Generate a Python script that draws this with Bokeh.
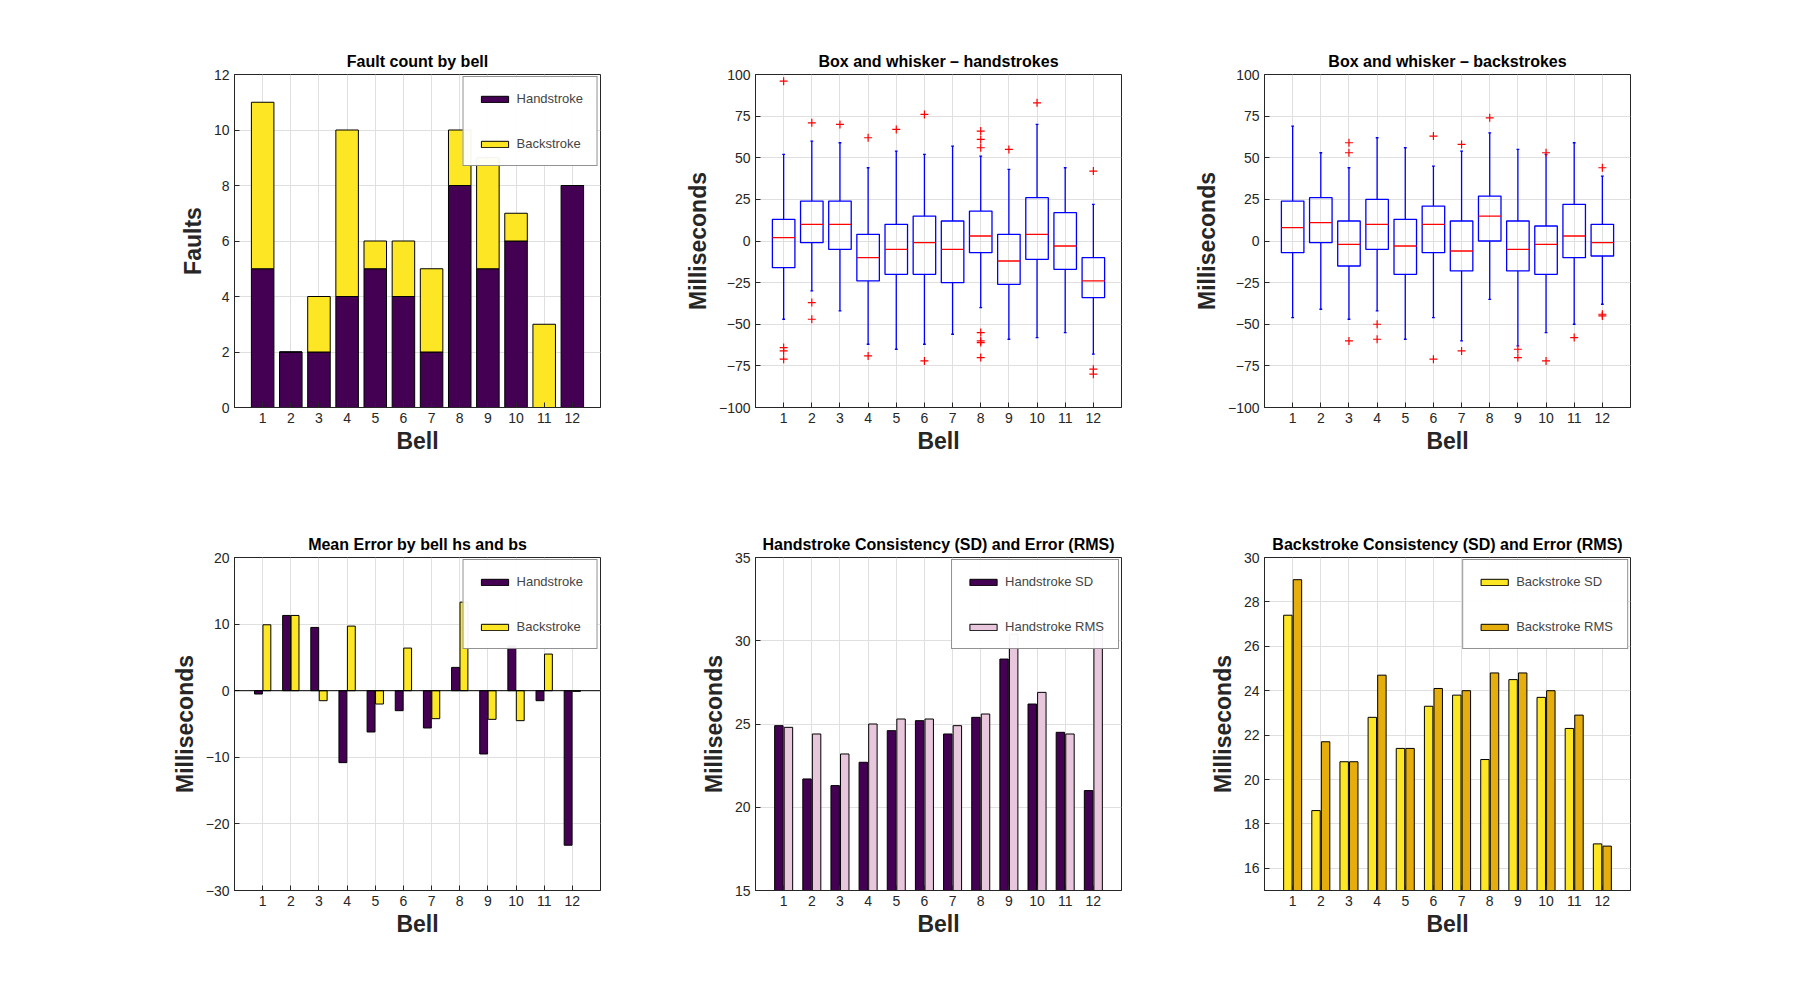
from bokeh.plotting import figure
from bokeh.layouts import gridplot
from bokeh.models import FixedTicker, Range1d, Span, Legend, LegendItem
from bokeh.embed import file_html
from bokeh.resources import INLINE

bells = list(range(1, 13))
fault_hs = [5, 2, 2, 4, 5, 4, 2, 8, 5, 6, 0, 8]
fault_bs = [6, 0, 2, 6, 1, 2, 3, 2, 4, 1, 3, 0]

# box stats: q1, median, q3, lower whisker, upper whisker
hs_q1 = [-16, -1, -5, -24, -20, -20, -25, -7, -26, -11, -17, -34]
hs_med = [2, 10, 10, -10, -5, -1, -5, 3, -12, 4, -3, -24]
hs_q3 = [13, 24, 24, 4, 10, 15, 12, 18, 4, 26, 17, -10]
hs_lo = [-47, -30, -42, -62, -65, -62, -56, -40, -59, -58, -55, -68]
hs_hi = [52, 60, 59, 44, 54, 52, 57, 51, 43, 70, 44, 22]
hs_out = [[96, -64, -66, -71], [71, -37, -47], [70], [62, -69], [67], [76, -72], [],
          [66, 61, 56, -55, -60, -61, -70], [55], [83], [], [42, -77, -80]]

bs_q1 = [-7, -1, -15, -5, -20, -7, -18, 0, -18, -20, -10, -9]
bs_med = [8, 11, -2, 10, -3, 10, -6, 15, -5, -2, 3, -1]
bs_q3 = [24, 26, 12, 25, 13, 21, 12, 27, 12, 9, 22, 10]
bs_lo = [-46, -41, -47, -42, -59, -46, -60, -35, -63, -55, -50, -38]
bs_hi = [69, 53, 44, 62, 56, 45, 54, 65, 55, 52, 59, 39]
bs_out = [[], [], [59, 53, -60], [-50, -59], [], [63, -71], [58, -66], [74],
          [-65, -70], [53, -72], [-58], [44, -44, -45]]

mean_hs = [-0.5, 11.3, 9.5, -10.8, -6.2, -3.0, -5.6, 3.5, -9.5, 6.7, -1.5, -23.2]
mean_bs = [9.9, 11.3, -1.5, 9.7, -2.0, 6.4, -4.2, 13.3, -4.3, -4.5, 5.5, -0.1]

hs_sd = [24.9, 21.7, 21.3, 22.7, 24.6, 25.2, 24.4, 25.4, 28.9, 26.2, 24.5, 21.0]
hs_rms = [24.8, 24.4, 23.2, 25.0, 25.3, 25.3, 24.9, 25.6, 30.4, 26.9, 24.4, 31.1]
bs_sd = [27.4, 18.6, 20.8, 22.8, 21.4, 23.3, 23.8, 20.9, 24.5, 23.7, 22.3, 17.1]
bs_rms = [29.0, 21.7, 20.8, 24.7, 21.4, 24.1, 24.0, 24.8, 24.8, 24.0, 22.9, 17.0]

PURPLE = "#440154"
YELLOW = "#fde725"
PINK = "#e8c6dc"
GOLD = "#e6ae0c"
FONT = "Liberation Sans"

FW, FH = 366, 333
lefts = [234, 145, 133]


def make(col, row, title, ylabel, yr, yticks):
    p = figure(output_backend="svg", toolbar_location=None,
               frame_width=FW, frame_height=FH,
               min_border_left=lefts[col], min_border_right=10,
               min_border_top=74 if row == 0 else 76,
               min_border_bottom=74,
               x_range=Range1d(0, 13), y_range=Range1d(*yr))
    p.title.text = title
    p.title.align = "center"
    p.title.text_font = FONT
    p.title.text_font_size = "16px"
    p.title.text_font_style = "bold"
    p.title.text_color = "#000000"
    p.outline_line_color = "#262626"
    p.background_fill_color = "white"
    p.border_fill_color = "white"
    for ax in (p.xaxis[0], p.yaxis[0]):
        ax.major_label_text_font = FONT
        ax.major_label_text_font_size = "14px"
        ax.major_label_text_color = "#262626"
        ax.axis_label_text_font = FONT
        ax.axis_label_text_font_size = "23px"
        ax.axis_label_text_font_style = "bold"
        ax.axis_label_text_color = "#262626"
        ax.axis_line_color = "#262626"
        ax.major_tick_in = 5
        ax.major_tick_out = 0
        ax.minor_tick_line_color = None
        ax.major_tick_line_color = "#262626"
    p.xaxis[0].ticker = FixedTicker(ticks=bells)
    p.yaxis[0].ticker = FixedTicker(ticks=yticks)
    p.xaxis[0].axis_label = "Bell"
    p.yaxis[0].axis_label = ylabel
    p.xaxis[0].axis_label_standoff = 2
    p.xgrid.ticker = FixedTicker(ticks=bells)
    p.ygrid.ticker = FixedTicker(ticks=yticks)
    p.xgrid.grid_line_color = "#e0e0e0"
    p.ygrid.grid_line_color = "#e0e0e0"
    return p


def legend(p, items):
    lg = Legend(items=items, location="top_right", label_text_font=FONT,
                label_text_font_size="13px", spacing=30, padding=14,
                glyph_width=34, glyph_height=8, border_line_color="#262626",
                margin=2)
    p.add_layout(lg)


# 1 fault count
p1 = make(0, 0, "Fault count by bell", "Faults", (0, 12), list(range(0, 13, 2)))
tops_bs = [a + b for a, b in zip(fault_hs, fault_bs)]
r1 = p1.vbar(x=bells, bottom=0, top=fault_hs, width=0.8, fill_color=PURPLE, line_color="black")
r2 = p1.vbar(x=bells, bottom=fault_hs, top=tops_bs, width=0.8, fill_color=YELLOW, line_color="black")
legend(p1, [LegendItem(label="Handstroke", renderers=[r1]), LegendItem(label="Backstroke", renderers=[r2])])


def boxplot(p, q1, med, q3, lo, hi, out):
    p.segment(x0=bells, x1=bells, y0=q3, y1=hi, line_color="blue", line_width=1.3)
    p.segment(x0=bells, x1=bells, y0=lo, y1=q1, line_color="blue", line_width=1.3)
    xl = [b - 0.05 for b in bells]
    xr = [b + 0.05 for b in bells]
    p.segment(x0=xl, x1=xr, y0=hi, y1=hi, line_color="blue", line_width=1.3)
    p.segment(x0=xl, x1=xr, y0=lo, y1=lo, line_color="blue", line_width=1.3)
    p.quad(left=[b - 0.4 for b in bells], right=[b + 0.4 for b in bells], bottom=q1, top=q3,
           fill_color=None, line_color="blue", line_width=1.3)
    p.segment(x0=[b - 0.4 for b in bells], x1=[b + 0.4 for b in bells], y0=med, y1=med,
              line_color="red", line_width=1.3)
    ox, oy = [], []
    for b, vals in zip(bells, out):
        for v in vals:
            ox.append(b)
            oy.append(v)
    p.scatter(ox, oy, marker="cross", size=8, line_color="red", line_width=1.2)


yt = list(range(-100, 101, 25))
p2 = make(1, 0, "Box and whisker \u2013 handstrokes", "Milliseconds", (-100, 100), yt)
boxplot(p2, hs_q1, hs_med, hs_q3, hs_lo, hs_hi, hs_out)
p3 = make(2, 0, "Box and whisker \u2013 backstrokes", "Milliseconds", (-100, 100), yt)
boxplot(p3, bs_q1, bs_med, bs_q3, bs_lo, bs_hi, bs_out)

# mean error
p4 = make(0, 1, "Mean Error by bell hs and bs", "Milliseconds", (-30, 20), list(range(-30, 21, 10)))
p4.add_layout(Span(location=0, dimension="width", line_color="black", line_width=1))
a = p4.vbar(x=[b - 0.15 for b in bells], bottom=0, top=mean_hs, width=0.28, fill_color=PURPLE, line_color="black")
b_ = p4.vbar(x=[b + 0.15 for b in bells], bottom=0, top=mean_bs, width=0.28, fill_color=YELLOW, line_color="black")
legend(p4, [LegendItem(label="Handstroke", renderers=[a]), LegendItem(label="Backstroke", renderers=[b_])])

p5 = make(1, 1, "Handstroke Consistency (SD) and Error (RMS)", "Milliseconds", (15, 35), [15, 20, 25, 30, 35])
a = p5.vbar(x=[b - 0.17 for b in bells], bottom=15, top=hs_sd, width=0.3, fill_color=PURPLE, line_color="black")
b_ = p5.vbar(x=[b + 0.17 for b in bells], bottom=15, top=hs_rms, width=0.3, fill_color=PINK, line_color="black")
legend(p5, [LegendItem(label="Handstroke SD", renderers=[a]), LegendItem(label="Handstroke RMS", renderers=[b_])])

p6 = make(2, 1, "Backstroke Consistency (SD) and Error (RMS)", "Milliseconds", (15, 30), list(range(16, 31, 2)))
a = p6.vbar(x=[b - 0.17 for b in bells], bottom=15, top=bs_sd, width=0.3, fill_color=YELLOW, line_color="black")
b_ = p6.vbar(x=[b + 0.17 for b in bells], bottom=15, top=bs_rms, width=0.3, fill_color=GOLD, line_color="black")
legend(p6, [LegendItem(label="Backstroke SD", renderers=[a]), LegendItem(label="Backstroke RMS", renderers=[b_])])

grid = gridplot([[p1, p2, p3], [p4, p5, p6]], toolbar_location=None)
open("out.html", "w").write(file_html(grid, INLINE))
